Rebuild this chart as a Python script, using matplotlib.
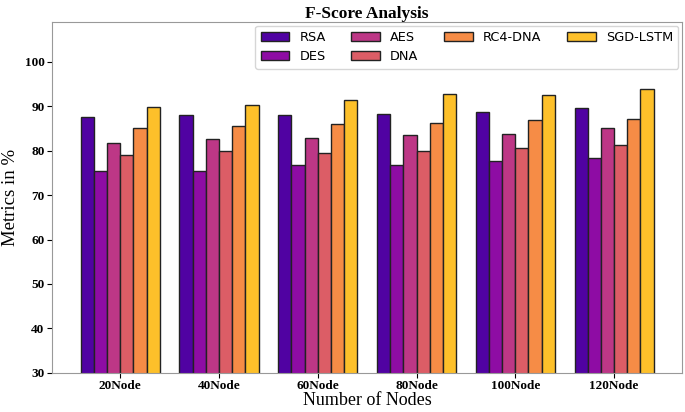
import numpy as np
import matplotlib
matplotlib.use('Agg')
import matplotlib.pyplot as plt

# Data
nodes = ['20Node', '40Node', '60Node', '80Node', '100Node', '120Node']
methods = ['RSA', 'DES', 'AES', 'DNA', 'RC4-DNA', 'SGD-LSTM']
rsa = [87.5, 88.0, 88.0, 88.3, 88.6, 89.7]
des = [75.5, 75.4, 76.8, 76.8, 77.6, 78.4]
aes = [81.8, 82.6, 82.8, 83.5, 83.8, 85.0]
dna = [79.0, 79.9, 79.5, 80.0, 80.5, 81.3]
rc4_dna = [85.1, 85.5, 85.9, 86.2, 87.0, 87.2]
sgd_lstm = [89.8, 90.2, 91.5, 92.8, 92.5, 93.8]
colors = ['#5002a2', '#8e0ca4', '#bd3786', '#dc5d66', '#f68c46', '#fdc02a']

series = [rsa, des, aes, dna, rc4_dna, sgd_lstm]

fig = plt.figure(figsize=(6.85, 4.12), dpi=100)
ax = fig.add_axes([0.076, 0.095, 0.92, 0.852])

x = np.arange(len(nodes))
width = 0.8 / len(methods)
for i, (name, vals) in enumerate(zip(methods, series)):
    ax.bar(x - 0.4 + width * (i + 0.5), vals, width, label=name,
           color=colors[i], edgecolor='#222222', linewidth=1)

ax.set_ylim(30, 109)
ax.set_xticks(x)
ax.set_xticklabels(nodes, fontfamily='Liberation Serif', fontweight='bold', fontsize=9.5)
ax.tick_params(axis='x', pad=2)
ax.tick_params(axis='y', pad=2)
for lbl in ax.get_yticklabels():
    lbl.set_fontfamily('Liberation Serif')
    lbl.set_fontweight('bold')
    lbl.set_fontsize(9.5)
ax.set_xlabel('Number of Nodes', fontfamily='Liberation Serif', fontsize=13, labelpad=0)
ax.set_ylabel('Metrics in %', fontfamily='Liberation Serif', fontsize=13.5, labelpad=4)
ax.set_title('F-Score Analysis', fontfamily='Liberation Serif', fontweight='bold',
             fontsize=12.5, pad=3)
for s in ax.spines.values():
    s.set_color('#999999')

ax.legend(ncol=4, loc='upper right', fontsize=9.3, handlelength=2.2,
          columnspacing=2.0, borderaxespad=0.3)

fig.savefig('out.png', dpi=100)
